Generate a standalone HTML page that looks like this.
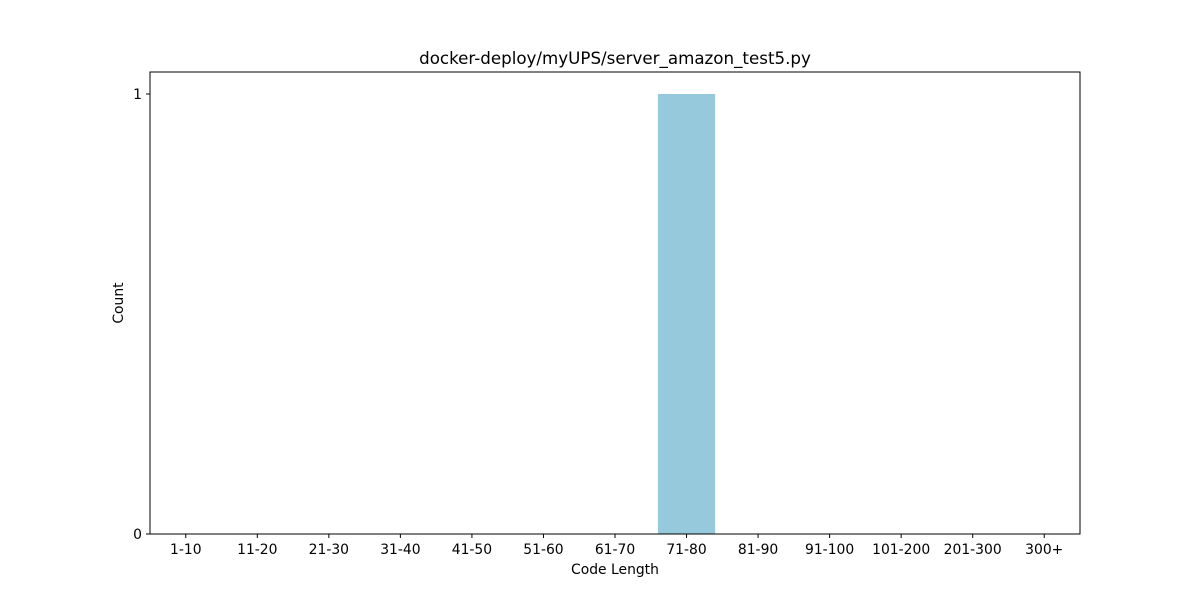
<!DOCTYPE html>
<html><head><meta charset="utf-8"><style>
body{margin:0;background:#fff;}
svg text{font-family:"DejaVu Sans","Liberation Sans",sans-serif;fill:#000;}
</style></head><body>
<svg id="chart" width="1200" height="600" xmlns="http://www.w3.org/2000/svg">
<rect width="1200" height="600" fill="#fff"/>
<text x="615" y="64" font-size="16.7" text-anchor="middle">docker-deploy/myUPS/server_amazon_test5.py</text>
<g id="bars"></g>
<g id="xticks"></g>
<g id="yticks"></g>
<rect x="150" y="72" width="930" height="462" fill="none" stroke="#000" stroke-width="1"/>
<text x="615" y="574" font-size="13.9" text-anchor="middle">Code Length</text>
<text x="123" y="303" font-size="13.9" text-anchor="middle" transform="rotate(-90 123 303)">Count</text>
</svg>
<script>
const categories = ["1-10","11-20","21-30","31-40","41-50","51-60","61-70","71-80","81-90","91-100","101-200","201-300","300+"];
const counts = [0,0,0,0,0,0,0,1,0,0,0,0,0];
const yTickValues = [0,1];
const ns="http://www.w3.org/2000/svg";
const L=150,R=1080,T=72,B=534,yMax=1.05;
const step=(R-L)/categories.length;
const xc=i=>L+(i+0.5)*step;
const y=v=>B-(v/yMax)*(B-T);
const bars=document.getElementById('bars'),xt=document.getElementById('xticks'),yt=document.getElementById('yticks');
categories.forEach((c,i)=>{
  if(counts[i]>0){
    const r=document.createElementNS(ns,'rect');
    
    
    r.setAttribute('x',xc(i)-0.4*step);r.setAttribute('width',0.8*step);
    r.setAttribute('y',y(counts[i]));r.setAttribute('height',B-y(counts[i]));
    r.setAttribute('fill','#96c9dc');
    bars.appendChild(r);
  }
  const l=document.createElementNS(ns,'line');
  
  
  l.setAttribute('x1',xc(i));l.setAttribute('x2',xc(i));l.setAttribute('y1',B);l.setAttribute('y2',B+4);l.setAttribute('stroke','#000');
  xt.appendChild(l);
  const t=document.createElementNS(ns,'text');
  
  
  t.setAttribute('x',xc(i));t.setAttribute('y',B+20);t.setAttribute('font-size','13.9');t.setAttribute('text-anchor','middle');
  t.textContent=c;xt.appendChild(t);
});
yTickValues.forEach(v=>{
  const l=document.createElementNS(ns,'line');
  
  
  l.setAttribute('x1',L-4);l.setAttribute('x2',L);l.setAttribute('y1',y(v));l.setAttribute('y2',y(v));l.setAttribute('stroke','#000');
  yt.appendChild(l);
  const t=document.createElementNS(ns,'text');
  
  
  t.setAttribute('x',L-8);t.setAttribute('y',y(v)+5);t.setAttribute('font-size','13.9');t.setAttribute('text-anchor','end');
  t.textContent=v;yt.appendChild(t);
});
</script>
</body></html>
